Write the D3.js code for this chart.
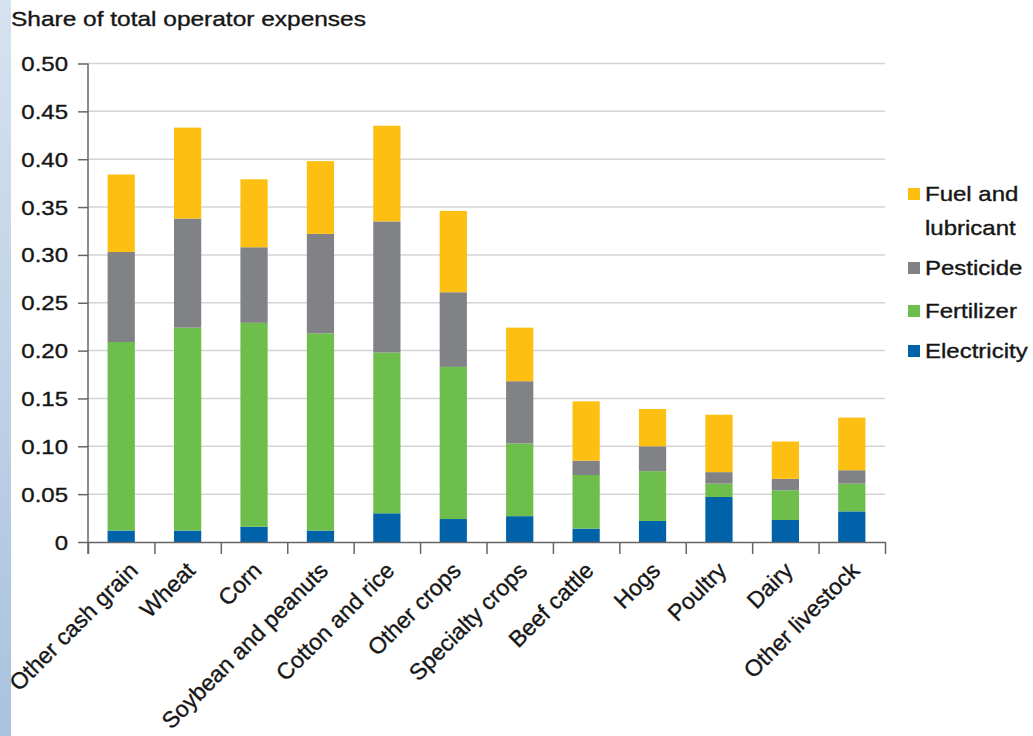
<!DOCTYPE html>
<html lang="en">
<head>
<meta charset="UTF-8">
<script src="https://d3js.org/d3.v7.min.js"></script>
<style>
  body { margin: 0; background: #fff; }
  svg text { font-family: "Liberation Sans", Arial, Helvetica, sans-serif; fill: #161616; stroke: #161616; stroke-width: 0.35px; }
</style>
</head>
<body>
<div id="chart"></div>
<script>
// values (share of total operator expenses)
const categories = ["Other cash grain", "Wheat", "Corn", "Soybean and peanuts", "Cotton and rice",
  "Other crops", "Specialty crops", "Beef cattle", "Hogs", "Poultry", "Dairy", "Other livestock"];
const electricity = [0.012, 0.012, 0.016, 0.012, 0.030, 0.024, 0.027, 0.014, 0.022, 0.047, 0.023, 0.032];
const fertilizer  = [0.197, 0.212, 0.213, 0.206, 0.168, 0.159, 0.076, 0.056, 0.052, 0.014, 0.031, 0.029];
const pesticide   = [0.094, 0.114, 0.079, 0.104, 0.137, 0.078, 0.065, 0.015, 0.026, 0.012, 0.012, 0.014];
const fuel        = [0.081, 0.095, 0.071, 0.076, 0.100, 0.085, 0.056, 0.062, 0.039, 0.060, 0.039, 0.055];
const yTicks = [0, 0.05, 0.10, 0.15, 0.20, 0.25, 0.30, 0.35, 0.40, 0.45, 0.50];

const seriesNames = ["Electricity", "Fertilizer", "Pesticide", "Fuel and lubricant"];
const colors = { "Electricity": "#0062a8", "Fertilizer": "#6ebe4b", "Pesticide": "#808285", "Fuel and lubricant": "#fdbf12" };

const W = 1033, H = 736;
const plotLeft = 88, plotRight = 885, plotTop = 63.5, plotBottom = 542;
const sx = 1.2; // the picture's text is a bit wide

const rows = categories.map((c, i) => ({
  cat: c,
  "Electricity": electricity[i],
  "Fertilizer": fertilizer[i],
  "Pesticide": pesticide[i],
  "Fuel and lubricant": fuel[i]
}));

const svg = d3.select("#chart").append("svg").attr("width", W).attr("height", H);

// blue strip at the left edge
const grad = svg.append("defs").append("linearGradient")
  .attr("id", "strip").attr("x1", 0).attr("y1", 0).attr("x2", 0).attr("y2", 1);
grad.append("stop").attr("offset", "0%").attr("stop-color", "#d6e2ef");
grad.append("stop").attr("offset", "100%").attr("stop-color", "#a9c2de");
svg.append("rect").attr("x", 0).attr("y", 0).attr("width", 11).attr("height", H).attr("fill", "url(#strip)");

// title
svg.append("text")
  .attr("transform", `translate(11,26) scale(${sx},1)`)
  .style("font-size", "20.4px")
  .text("Share of total operator expenses");

const y = d3.scaleLinear().domain([0, 0.5]).range([plotBottom, plotTop]);
const x = d3.scaleBand().domain(categories).range([plotLeft, plotRight])
  .paddingInner(0.59).paddingOuter(0.295);

// grid
svg.append("g").selectAll("line")
  .data(yTicks.filter(d => d > 0))
  .join("line")
  .attr("x1", plotLeft).attr("x2", plotRight)
  .attr("y1", d => y(d)).attr("y2", d => y(d))
  .attr("stroke", "#d4d4d4").attr("stroke-width", 1.5);

// bars
const stacked = d3.stack().keys(seriesNames)(rows);
svg.append("g").selectAll("g")
  .data(stacked)
  .join("g")
  .attr("fill", d => colors[d.key])
  .selectAll("rect")
  .data(d => d)
  .join("rect")
  .attr("x", d => x(d.data.cat))
  .attr("width", x.bandwidth())
  .attr("y", d => y(d[1]))
  .attr("height", d => y(d[0]) - y(d[1]));

// y axis
const yAxis = svg.append("g")
  .attr("transform", `translate(${plotLeft},0)`)
  .call(d3.axisLeft(y).tickValues(yTicks).tickSize(10).tickSizeOuter(0)
    .tickFormat(d => d === 0 ? "0" : d3.format(".2f")(d)));
yAxis.select(".domain").attr("stroke", "#666").attr("stroke-width", 1.5)
  .attr("d", `M0,${plotTop}V${plotBottom + 12}`);
yAxis.selectAll(".tick line").attr("stroke", "#666").attr("stroke-width", 1.5);
yAxis.selectAll(".tick text")
  .attr("x", null).attr("dy", null)
  .attr("transform", `translate(-20,7) scale(${sx},1)`)
  .style("font-size", "20px").attr("fill", null);

// x axis: ticks at band boundaries
const xb = d3.scaleLinear().domain([0, categories.length]).range([plotLeft, plotRight]);
const xAxis = svg.append("g")
  .attr("transform", `translate(0,${plotBottom})`)
  .call(d3.axisBottom(xb).ticks(categories.length).tickSize(12).tickSizeOuter(0).tickFormat(""));
xAxis.select(".domain").attr("stroke", "#666").attr("stroke-width", 1.5);
xAxis.selectAll(".tick line").attr("stroke", "#666").attr("stroke-width", 1.5);

// category labels, rotated; the first one is pushed right to stay inside
const labels = svg.append("g").selectAll("text")
  .data(categories)
  .join("text")
  .attr("text-anchor", "end")
  .style("font-size", "23px")
  .text(d => d);
labels.each(function(d) {
  let ax = x(d) + x.bandwidth() / 2 + 9;
  const ay = plotBottom + 30;
  const len = this.getComputedTextLength();
  const leftEdge = ax - len * Math.SQRT1_2 - 4;
  if (leftEdge < 15) ax += 15 - leftEdge;
  d3.select(this).attr("transform", `translate(${ax},${ay}) rotate(-45)`);
});

// legend
const legendItems = [
  { key: "Fuel and lubricant", lines: ["Fuel and", "lubricant"], y: 194 },
  { key: "Pesticide", lines: ["Pesticide"], y: 268 },
  { key: "Fertilizer", lines: ["Fertilizer"], y: 311 },
  { key: "Electricity", lines: ["Electricity"], y: 351 }
];
const lg = svg.append("g").selectAll("g").data(legendItems).join("g")
  .attr("transform", d => `translate(908,${d.y})`);
lg.append("rect").attr("x", 0).attr("y", -6).attr("width", 12).attr("height", 12)
  .attr("fill", d => colors[d.key]);
lg.each(function(d) {
  d3.select(this).selectAll("text").data(d.lines).join("text")
    .attr("transform", (t, i) => `translate(17,${7 + i * 34}) scale(${sx},1)`)
    .style("font-size", "20px")
    .text(t => t);
});
</script>
</body>
</html>
